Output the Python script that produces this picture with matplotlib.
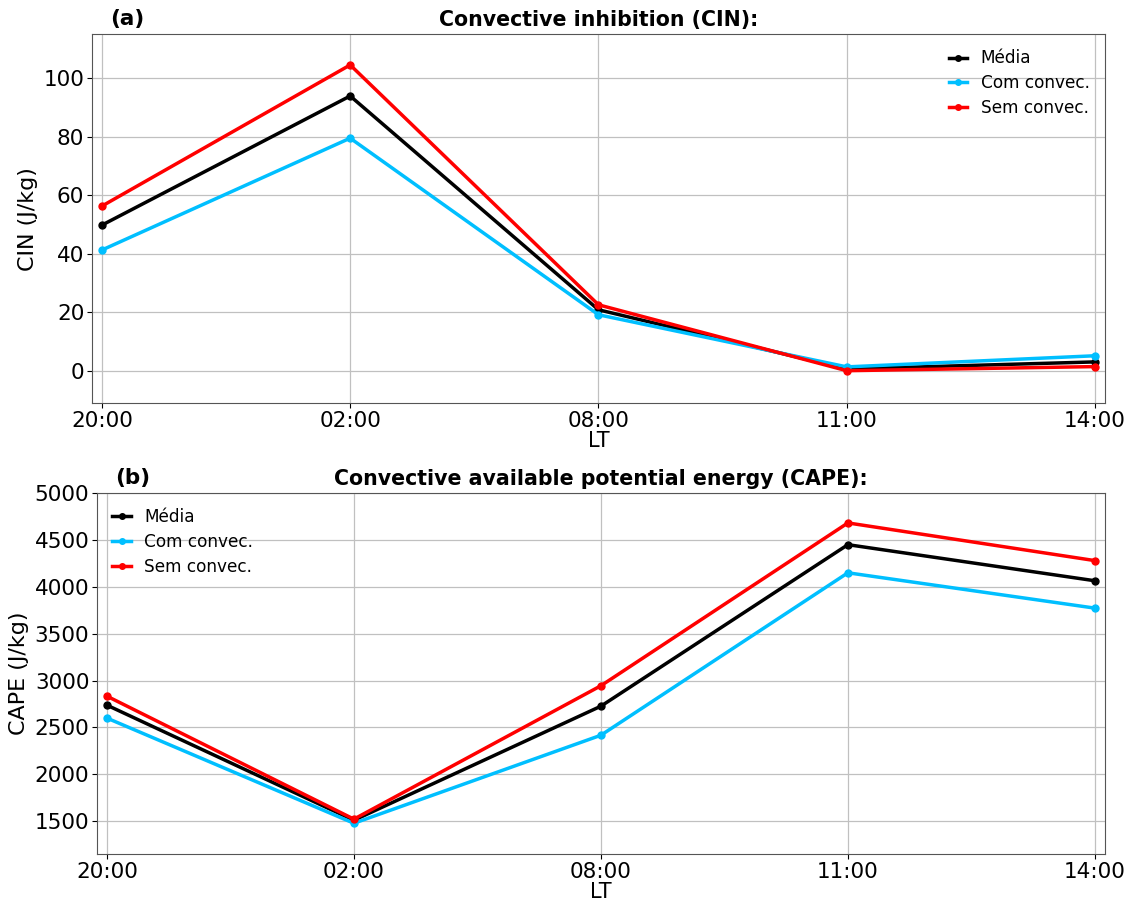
import matplotlib
matplotlib.use("Agg")
import matplotlib.pyplot as plt
import numpy as np

hours = ["20:00", "02:00", "08:00", "11:00", "14:00"]

cin_media = [49.8, 93.9, 20.9, 0.7, 3.1]
cin_com = [41.3, 79.5, 19.2, 1.4, 5.2]
cin_sem = [56.3, 104.5, 22.6, 0.1, 1.5]

cape_media = [2738, 1510, 2727, 4450, 4065]
cape_com = [2600, 1478, 2417, 4150, 3773]
cape_sem = [2834, 1522, 2945, 4682, 4280]

series_labels = ["Média", "Com convec.", "Sem convec."]
series_colors = ["black", "deepskyblue", "red"]

fig = plt.figure(figsize=(11.31, 9.0), dpi=100)
ax_cin = fig.add_axes([0.0813, 0.552, 0.8957, 0.41])
ax_cape = fig.add_axes([0.0858, 0.0511, 0.891, 0.401])

x = np.arange(len(hours))


def draw_panel(ax, series, title, tag, ylabel, legend_loc):
    for vals, lab, col in zip(series, series_labels, series_colors):
        ax.plot(x, vals, color=col, lw=2.5, marker="o", ms=5, label=lab)
    ax.set_xticks(x)
    ax.set_xticklabels(hours)
    ax.set_xlim(-0.04, 4.04)
    ax.grid(True, color="#c0c0c0", lw=0.9)
    ax.tick_params(labelsize=15.5, pad=2)
    ax.set_xlabel("LT", fontsize=15, labelpad=0)
    ax.set_ylabel(ylabel, fontsize=16)
    ax.set_title(title, fontsize=14.8, fontweight="bold", pad=6)
    ax.text(0.018, 1.015, tag, transform=ax.transAxes, fontsize=15.5,
            fontweight="bold", ha="left", va="bottom")
    for sp in ax.spines.values():
        sp.set_color("#555555")
    ax.legend(loc=legend_loc, frameon=False, fontsize=12.2, handlelength=1.1,
              labelspacing=0.4, markerscale=0.8)


draw_panel(ax_cin, [cin_media, cin_com, cin_sem],
           "Convective inhibition (CIN):", "(a)", "CIN (J/kg)", "upper right")
ax_cin.set_ylim(-11, 115)
ax_cin.set_yticks([0, 20, 40, 60, 80, 100])

draw_panel(ax_cape, [cape_media, cape_com, cape_sem],
           "Convective available potential energy (CAPE):", "(b)", "CAPE (J/kg)",
           "upper left")
ax_cape.set_ylim(1150, 5000)
ax_cape.set_yticks([1500, 2000, 2500, 3000, 3500, 4000, 4500, 5000])

fig.savefig("out.png", dpi=100)
